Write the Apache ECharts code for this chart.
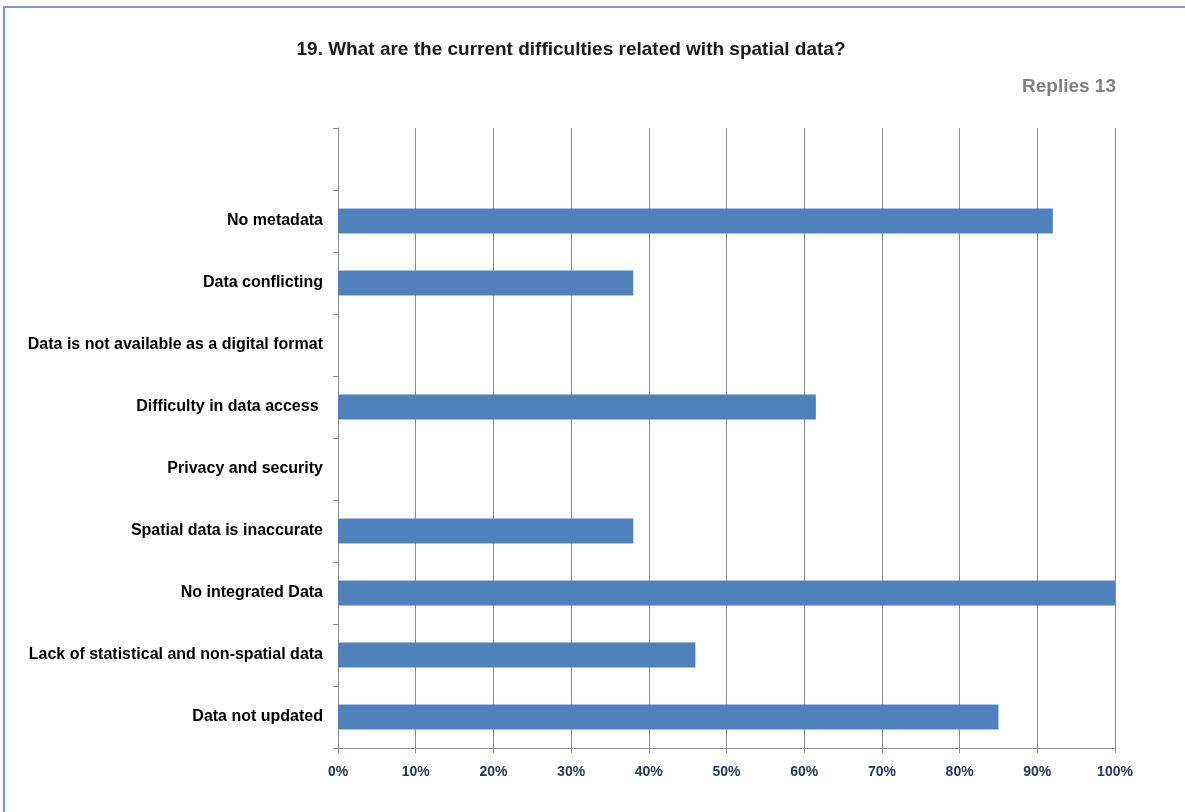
<!DOCTYPE html>
<html>
<head>
<meta charset="utf-8">
<script src="https://cdn.jsdelivr.net/npm/echarts@6/dist/echarts.min.js"></script>
<style>
  html, body { margin: 0; padding: 0; background: #ffffff; }
  #frame {
    position: absolute; left: 3px; top: 6px; width: 1182px; height: 806px;
    border-top: 2px solid #6e9ad6; border-left: 2px solid #6e9ad6;
    box-sizing: border-box;
  }
  #chart { position: absolute; left: 0; top: 0; width: 1185px; height: 812px; }
</style>
</head>
<body>
<div id="frame"></div>
<div id="chart"></div>
<script>
// Survey question 19, share of respondents (percent) per difficulty
const categories = [
  '',
  'No metadata',
  'Data conflicting',
  'Data is not available as a digital format',
  'Difficulty in data access ',
  'Privacy and security',
  'Spatial data is inaccurate',
  'No integrated Data',
  'Lack of statistical and non-spatial data',
  'Data not updated'
];
const shares = [null, 92, 38, 0, 61.5, 0, 38, 100, 46, 85];
const titleText = '19. What are the current difficulties related with spatial data?';
const repliesText = 'Replies 13';

const chart = echarts.init(document.getElementById('chart'), null, { renderer: 'canvas' });
chart.setOption({
  animation: false,
  backgroundColor: 'transparent',
  title: [
    {
      text: titleText,
      left: 566, top: 35, textAlign: 'center',
      textStyle: { fontFamily: 'Liberation Sans, Arial, sans-serif', fontSize: 19, fontWeight: 'bold', color: '#1a1a1a' }
    },
    {
      text: repliesText,
      right: 64, top: 72,
      textStyle: { fontFamily: 'Liberation Sans, Arial, sans-serif', fontSize: 19, fontWeight: 'bold', color: '#808080' }
    }
  ],
  grid: { left: 338, right: 70, top: 128, bottom: 64, containLabel: false },
  xAxis: {
    type: 'value', min: 0, max: 100, interval: 10,
    axisLine: { show: true, lineStyle: { color: '#8c8c8c', width: 1 } },
    axisTick: { show: true, length: 5, lineStyle: { color: '#8c8c8c' } },
    splitLine: { show: true, lineStyle: { color: '#8c8c8c', width: 1 } },
    axisLabel: {
      formatter: '{value}%', margin: 17,
      fontFamily: 'Liberation Sans, Arial, sans-serif', fontSize: 14, fontWeight: 'bold', color: '#1f3864'
    }
  },
  yAxis: {
    type: 'category', data: categories, inverse: true,
    axisLine: { show: true, lineStyle: { color: '#8c8c8c', width: 1 } },
    axisTick: { show: true, length: 5, lineStyle: { color: '#8c8c8c' } },
    axisLabel: {
      margin: 15,
      fontFamily: 'Liberation Sans, Arial, sans-serif', fontSize: 16, fontWeight: 'bold', color: '#000000'
    },
    splitLine: { show: false }
  },
  series: [{
    type: 'bar', data: shares, barWidth: 25,
    itemStyle: { color: '#4f81bd' }
  }]
});
</script>
</body>
</html>
